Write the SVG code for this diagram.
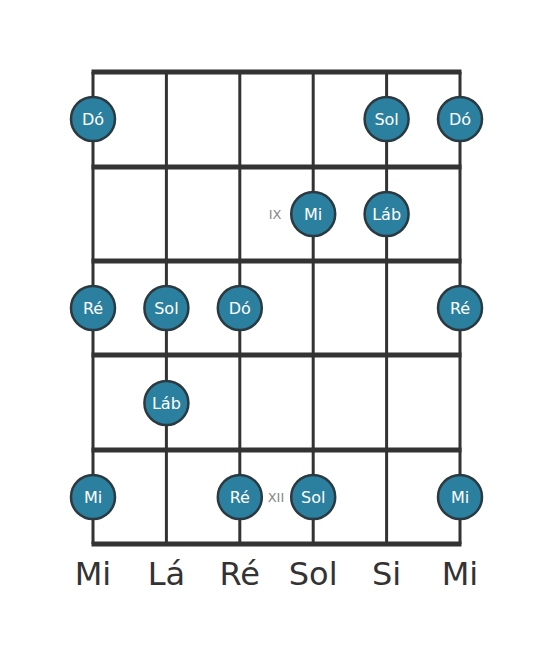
<svg xmlns="http://www.w3.org/2000/svg" width="553" height="656" viewBox="0 0 553 656">
<style>
.s{stroke:#333;stroke-width:3}
.f{stroke:#333;stroke-width:5}
.n circle{fill:#2b809f;stroke:#2a3a40;stroke-width:2.5}
.n text{fill:#fff;font-family:"DejaVu Sans",sans-serif;font-size:16px;text-anchor:middle;dominant-baseline:central}
.lab{fill:#333;font-family:"DejaVu Sans",sans-serif;font-size:32px;text-anchor:middle}
.fr{fill:#888;font-family:"DejaVu Sans",sans-serif;font-size:13px;text-anchor:middle;dominant-baseline:central}
</style>
<rect width="553" height="656" fill="#fff"/>
<g id="connectors">
<line class="s" x1="93" y1="72" x2="93" y2="544"/>
<line class="s" x1="166.4" y1="72" x2="166.4" y2="544"/>
<line class="s" x1="239.8" y1="72" x2="239.8" y2="544"/>
<line class="s" x1="313.2" y1="72" x2="313.2" y2="544"/>
<line class="s" x1="386.6" y1="72" x2="386.6" y2="544"/>
<line class="s" x1="460" y1="72" x2="460" y2="544"/>
<line class="f" x1="91.5" y1="72" x2="461.5" y2="72"/>
<line class="f" x1="91.5" y1="167" x2="461.5" y2="167"/>
<line class="f" x1="91.5" y1="261" x2="461.5" y2="261"/>
<line class="f" x1="91.5" y1="355" x2="461.5" y2="355"/>
<line class="f" x1="91.5" y1="450" x2="461.5" y2="450"/>
<line class="f" x1="91.5" y1="544" x2="461.5" y2="544"/>
</g>
<text class="fr" x="275" y="214">IX</text>
<text class="fr" x="276" y="497">XII</text>
<g id="n1" class="n"><circle cx="93" cy="119" r="22"/><text x="93" y="119">Dó</text></g>
<g id="n2" class="n"><circle cx="386.6" cy="119" r="22"/><text x="386.6" y="119">Sol</text></g>
<g id="n3" class="n"><circle cx="460" cy="119" r="22"/><text x="460" y="119">Dó</text></g>
<g id="n4" class="n"><circle cx="313.2" cy="214" r="22"/><text x="313.2" y="214">Mi</text></g>
<g id="n5" class="n"><circle cx="386.6" cy="214" r="22"/><text x="386.6" y="214">Láb</text></g>
<g id="n6" class="n"><circle cx="93" cy="308" r="22"/><text x="93" y="308">Ré</text></g>
<g id="n7" class="n"><circle cx="166.4" cy="308" r="22"/><text x="166.4" y="308">Sol</text></g>
<g id="n8" class="n"><circle cx="239.8" cy="308" r="22"/><text x="239.8" y="308">Dó</text></g>
<g id="n9" class="n"><circle cx="460" cy="308" r="22"/><text x="460" y="308">Ré</text></g>
<g id="n10" class="n"><circle cx="166.4" cy="403" r="22"/><text x="166.4" y="403">Láb</text></g>
<g id="n11" class="n"><circle cx="93" cy="497" r="22"/><text x="93" y="497">Mi</text></g>
<g id="n12" class="n"><circle cx="239.8" cy="497" r="22"/><text x="239.8" y="497">Ré</text></g>
<g id="n13" class="n"><circle cx="313.2" cy="497" r="22"/><text x="313.2" y="497">Sol</text></g>
<g id="n14" class="n"><circle cx="460" cy="497" r="22"/><text x="460" y="497">Mi</text></g>
<g id="labels">
<text class="lab" x="93" y="585">Mi</text>
<text class="lab" x="166.4" y="585">Lá</text>
<text class="lab" x="239.8" y="585">Ré</text>
<text class="lab" x="313.2" y="585">Sol</text>
<text class="lab" x="386.6" y="585">Si</text>
<text class="lab" x="460" y="585">Mi</text>
</g>
</svg>
